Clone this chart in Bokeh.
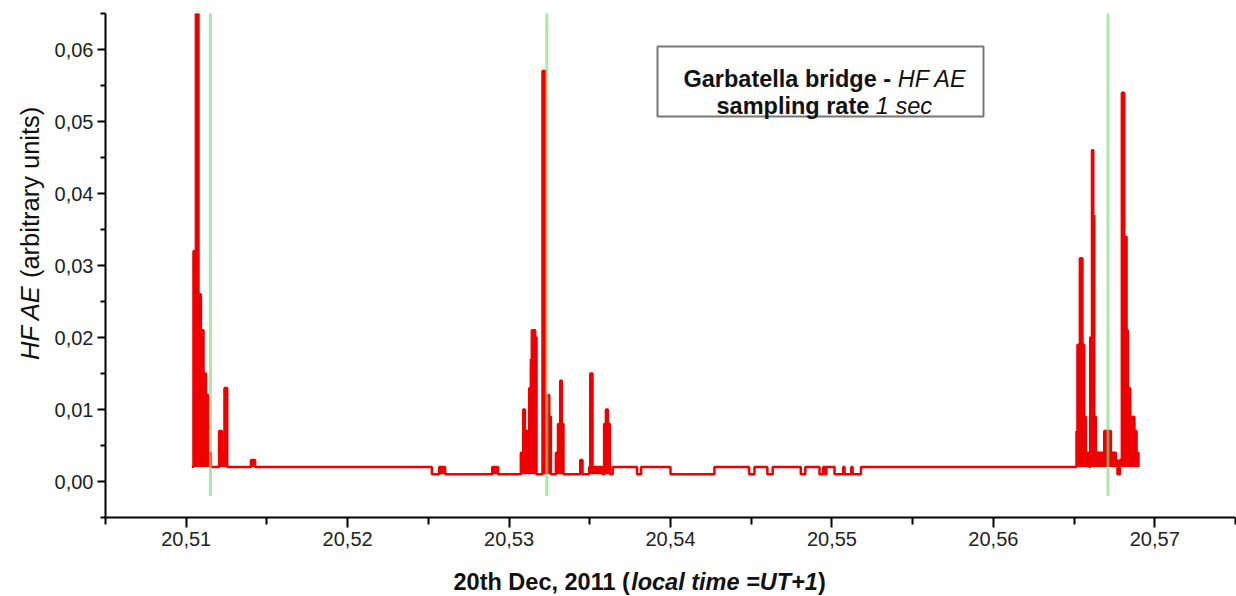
import numpy as np
from bokeh.plotting import figure
from bokeh.layouts import row, column
from bokeh.models import FixedTicker, CustomJSTickFormatter, Label, Range1d, BoxAnnotation
from bokeh.embed import file_html
from bokeh.resources import INLINE

# ---------------- data ----------------
# step-wise HF AE record: time (hours, local) at which the level changes, and new level
TIME_H = [
    20.51035, 20.51045, 20.51060, 20.51076, 20.51091, 20.51107, 20.51122, 20.51136,
    20.51153, 20.51204, 20.51221, 20.51237, 20.51254, 20.51401, 20.51427,
    20.52522, 20.52567, 20.52604, 20.52896, 20.52932,
    20.53073, 20.53088, 20.53098, 20.53125, 20.53135, 20.53141, 20.53162, 20.53170,
    20.53207, 20.53224, 20.53234, 20.53249, 20.53259, 20.53290, 20.53303, 20.53317,
    20.53327, 20.53337, 20.53441, 20.53455, 20.53496, 20.53503, 20.53517, 20.53579,
    20.53589, 20.53600, 20.53612, 20.53625, 20.53642, 20.53793, 20.53818,
    20.54000, 20.54272, 20.54487, 20.54520, 20.54600, 20.54633, 20.54807, 20.54835,
    20.54923, 20.54946, 20.54958, 20.54966, 20.55016, 20.55070, 20.55078, 20.55120,
    20.55128, 20.55180,
    20.56515, 20.56521, 20.56536, 20.56552, 20.56563, 20.56573, 20.56594, 20.56600,
    20.56611, 20.56619, 20.56625, 20.56635, 20.56687, 20.56728, 20.56759, 20.56769,
    20.56784, 20.56796, 20.56811, 20.56825, 20.56834, 20.56848, 20.56862, 20.56874,
    20.56887, 20.56899,
]
HF_AE = [
    0.002, 0.032, 0.068, 0.026, 0.021, 0.015, 0.012, 0.004,
    0.002, 0.007, 0.004, 0.013, 0.002, 0.003, 0.002,
    0.001, 0.002, 0.001, 0.002, 0.001,
    0.004, 0.010, 0.007, 0.013, 0.017, 0.021, 0.020, 0.001,
    0.057, 0.006, 0.012, 0.009, 0.001, 0.004, 0.008, 0.014,
    0.008, 0.001, 0.003, 0.001, 0.002, 0.015, 0.002, 0.001,
    0.008, 0.010, 0.008, 0.001, 0.002, 0.001, 0.002,
    0.001, 0.002, 0.001, 0.002, 0.001, 0.002, 0.001, 0.002,
    0.001, 0.002, 0.001, 0.002, 0.001, 0.002, 0.001, 0.002,
    0.001, 0.002,
    0.007, 0.019, 0.031, 0.019, 0.009, 0.004, 0.002, 0.020,
    0.046, 0.037, 0.009, 0.004, 0.007, 0.004, 0.003, 0.001,
    0.003, 0.054, 0.034, 0.021, 0.013, 0.004, 0.009, 0.007,
    0.004, 0.002,
]
BASE_HIGH = 0.002            # usual background level
BASE_LOW = 0.001             # background level in the quieter window
LOW_WINDOW = (20.5252, 20.5364)

EVENT_TIMES_H = [20.5115, 20.53234, 20.5671]   # green markers
EVENT_Y0 = -0.002
EVENT_Y1 = 0.07

X_TICKS = [20.51, 20.52, 20.53, 20.54, 20.55, 20.56, 20.57]
X_MINOR = [20.505, 20.515, 20.525, 20.535, 20.545, 20.555, 20.565, 20.575]
Y_TICKS = [0.0, 0.01, 0.02, 0.03, 0.04, 0.05, 0.06]
Y_MINOR = [-0.005, 0.005, 0.015, 0.025, 0.035, 0.045, 0.055, 0.065]
X_RANGE = (20.505, 20.575)
Y_RANGE = (-0.005, 0.065)

X_TITLE = ["20th Dec, 2011 (", "local time =UT+1", ")"]
Y_TITLE = ["HF AE", "(arbitrary units)"]
BOX_LINE1 = ["Garbatella bridge -", "HF AE"]
BOX_LINE2 = ["sampling rate", "1 sec"]

# ---------------- geometry ----------------
W, H = 1236, 596
YW = 50                    # width of the strip holding the y title
MH = 560                   # height of the main plot canvas
XH = H - MH                # strip holding the x title
FL, FT, FW, FH = 105, 13, 1130, 504      # frame left/top/width/height (page px)

FONT = "Liberation Sans"
BIG = 23.5


def xd(px):
    return X_RANGE[0] + (px - FL) / FW * (X_RANGE[1] - X_RANGE[0])


def yd(py):
    return Y_RANGE[1] - (py - FT) / FH * (Y_RANGE[1] - Y_RANGE[0])


def blank(w, h):
    f = figure(width=w, height=h, output_backend="svg", toolbar_location=None,
               x_range=Range1d(0, w), y_range=Range1d(0, h),
               x_axis_location=None, y_axis_location=None,
               min_border=0, min_border_left=0, min_border_right=0,
               min_border_top=0, min_border_bottom=0)
    f.outline_line_color = None
    f.xgrid.visible = False
    f.ygrid.visible = False
    f.background_fill_color = "white"
    f.border_fill_color = "white"
    return f


def lab(fig, x, y, text, style="normal", size=BIG, angle=0.0, align="left", baseline="alphabetic"):
    fig.add_layout(Label(x=x, y=y, text=text, text_font=FONT, text_font_size=f"{size}px",
                         text_font_style=style, text_color="#111111", angle=angle,
                         text_align=align, text_baseline=baseline))


# ---------------- main plot ----------------
p = figure(width=W - YW, height=MH, output_backend="svg", toolbar_location=None,
           x_range=Range1d(*X_RANGE), y_range=Range1d(*Y_RANGE),
           min_border_left=FL - YW, min_border_right=W - FL - FW,
           min_border_top=FT, min_border_bottom=MH - FT - FH)
p.outline_line_color = None
p.xgrid.visible = False
p.ygrid.visible = False
p.background_fill_color = "white"
p.border_fill_color = "white"

t = np.array(TIME_H)
v = np.array(HF_AE)
level = np.where((t >= LOW_WINDOW[0]) & (t <= LOW_WINDOW[1]), BASE_LOW, BASE_HIGH)
floor = np.minimum(v, level)
p.varea_step(x=t, y1=floor, y2=v, step_mode="after", fill_color="#ee0000")
p.step(x=t, y=v, mode="after", line_color="#ee0000", line_width=2.5)

p.segment(x0=EVENT_TIMES_H, y0=[EVENT_Y0] * len(EVENT_TIMES_H),
          x1=EVENT_TIMES_H, y1=[EVENT_Y1] * len(EVENT_TIMES_H),
          line_color="#7fd87f", line_width=3, line_alpha=0.65)

fmt = CustomJSTickFormatter(code="return tick.toFixed(2).replace('.', ',');")

xa = p.xaxis[0]
xa.ticker = FixedTicker(ticks=X_TICKS, minor_ticks=X_MINOR)
xa.major_tick_out = 10
xa.minor_tick_out = 7
ya = p.yaxis[0]
ya.ticker = FixedTicker(ticks=Y_TICKS, minor_ticks=Y_MINOR)
ya.major_tick_out = 8
ya.minor_tick_out = 5
for ax in (xa, ya):
    ax.formatter = fmt
    ax.major_tick_in = 0
    ax.minor_tick_in = 0
    ax.major_label_standoff = 4
    ax.axis_line_width = 2
    ax.major_tick_line_width = 2
    ax.minor_tick_line_width = 2
    ax.axis_line_color = "black"
    ax.major_tick_line_color = "black"
    ax.minor_tick_line_color = "black"
    ax.major_label_text_font = FONT
    ax.major_label_text_font_size = "20px"
    ax.major_label_text_color = "#222222"

# legend-like box
p.add_layout(BoxAnnotation(left=xd(657), right=xd(983), top=yd(46), bottom=yd(116),
                           fill_color="white", fill_alpha=1.0, line_color="#777777",
                           line_width=2, line_alpha=1.0))
lab(p, xd(683), yd(78), BOX_LINE1[0], "bold")
lab(p, xd(683 + 9.114 * BIG), yd(78), BOX_LINE1[1], "italic")
lab(p, xd(716), yd(105), BOX_LINE2[0], "bold")
lab(p, xd(716 + 6.78 * BIG), yd(105), BOX_LINE2[1], "italic")

# ---------------- y title strip ----------------
yf = blank(YW, MH)
YS = 25.5
lab(yf, 29, MH - 385, Y_TITLE[0], "italic", YS, np.pi / 2, "left", "middle")
lab(yf, 29, MH - 294, Y_TITLE[1], "normal", YS, np.pi / 2, "left", "middle")

# ---------------- x title strip ----------------
xf = blank(W, XH)
xl0 = 453
base = XH - (581 - MH)
lab(xf, xl0, base, X_TITLE[0], "bold")
lab(xf, xl0 + 7.559 * BIG, base, X_TITLE[1], "bold italic")
lab(xf, xl0 + (7.559 + 7.948) * BIG, base, X_TITLE[2], "bold")

layout = column(row(yf, p, spacing=0), xf, spacing=0)
open("out.html", "w").write(file_html(layout, INLINE))
